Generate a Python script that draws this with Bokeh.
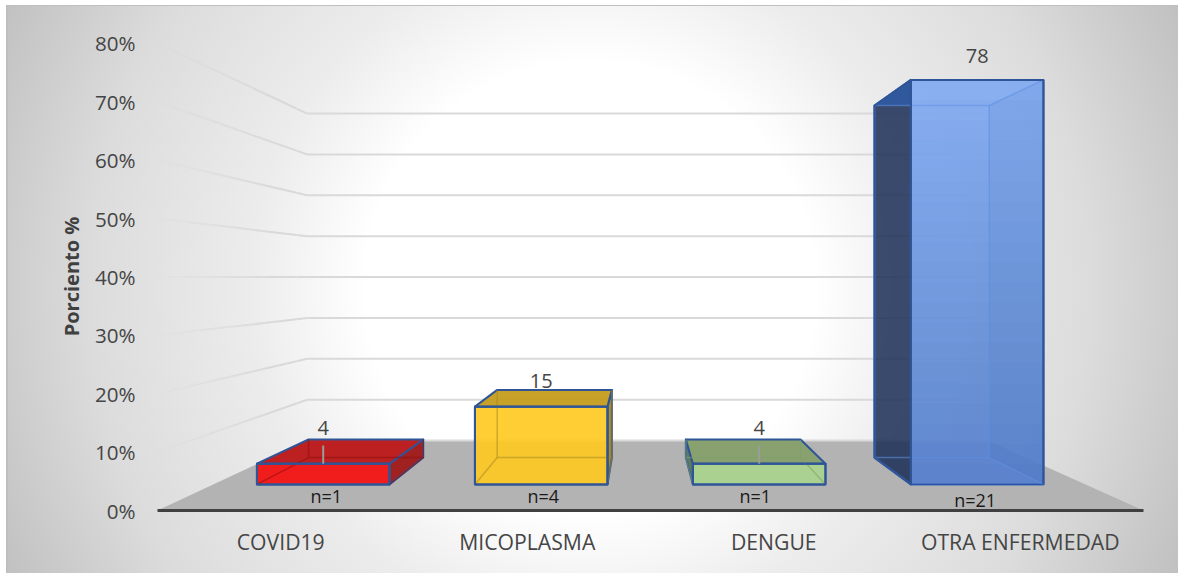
from bokeh.plotting import figure
from bokeh.embed import file_html
from bokeh.resources import INLINE
from bokeh.models import Range1d, FixedTicker, ColumnDataSource
from bokeh.core.properties import value as fv

# ---- data
categories = ["COVID19", "MICOPLASMA", "DENGUE", "OTRA ENFERMEDAD"]
percent = [4, 15, 4, 78]
n_labels = ["n=1", "n=4", "n=1", "n=21"]
y_ticks = [0, 10, 20, 30, 40, 50, 60, 70, 80]
y_tick_labels = ["0%", "10%", "20%", "30%", "40%", "50%", "60%", "70%", "80%"]

# ---- perspective of the 3-D chart, in data units
U_EYE, V_EYE = 1.959, 39.9
KX, KY = 0.31, 0.30
D_FRONT, D_BACK = 0.373, 0.757
HALF, SHIFT = 0.304, 0.004
FONT = "Open Sans"
LABEL_COL = "#454545"


def px(u, d):
    return U_EYE + (u - U_EYE) * (1 - KX * d)


def py(v, d):
    return V_EYE + (v - V_EYE) * (1 - KY * d)


p = figure(width=1178, height=573, output_backend="svg", toolbar_location=None,
           x_range=Range1d(0, 4), y_range=Range1d(0, 468 / 5.84),
           min_border_left=157, min_border_right=35, min_border_top=42, min_border_bottom=63)
p.background_fill_alpha = 0
p.border_fill_alpha = 0
p.outline_line_color = None
p.grid.visible = False
p.styles = {
    "background-image": "linear-gradient(#bfbfbf,#bfbfbf),linear-gradient(#bfbfbf,#bfbfbf),"
                        "radial-gradient(circle 655px at 584px 283px,#ffffff 0px,#ffffff 225px,"
                        "#ececec 340px,#dcdcdc 500px,#c0c0c0 655px)",
    "background-repeat": "no-repeat",
    "background-position": "6px 5px,6px 5px,6px 5px",
    "background-size": "1172px 1px,2px 568px,1172px 568px",
}

# axes
xa = p.xaxis[0]
xa.ticker = FixedTicker(ticks=[i + 0.5 for i in range(len(categories))])
xa.major_label_overrides = {i + 0.5: c for i, c in enumerate(categories)}
xa.major_tick_line_color = None
xa.minor_tick_line_color = None
xa.axis_line_color = "#404040"
xa.axis_line_width = 3
xa.major_label_standoff = 10
xa.major_label_text_font = FONT
xa.major_label_text_font_size = "21.2px"
xa.major_label_text_color = LABEL_COL

ya = p.yaxis[0]
ya.ticker = FixedTicker(ticks=y_ticks)
ya.major_label_overrides = dict(zip(y_ticks, y_tick_labels))
ya.major_tick_line_color = None
ya.minor_tick_line_color = None
ya.axis_line_color = None
ya.major_label_standoff = 16
ya.major_label_text_font = FONT
ya.major_label_text_font_size = "20.6px"
ya.major_label_text_color = LABEL_COL
ya.axis_label = "Porciento %"
ya.axis_label_text_font = FONT
ya.axis_label_text_font_size = "20px"
ya.axis_label_text_font_style = "bold"
ya.axis_label_text_color = "#404040"
ya.axis_label_standoff = 7

# floor
p.patch([px(0, 0), px(4, 0), px(4, 1), px(0, 1)], [py(0, 0), py(0, 0), py(0, 1), py(0, 1)],
        fill_color="#b3b3b3", line_color=None)

# grid: back wall and fading side wall
x0, y0, x1, y1, al = [], [], [], [], []
STEPS = 14
for t in y_ticks[1:]:
    x0.append(px(0, 1)); y0.append(py(t, 1)); x1.append(px(4, 1)); y1.append(py(t, 1)); al.append(1.0)
    for i in range(STEPS):
        a, b = i / STEPS, (i + 1) / STEPS
        x0.append(px(0, a)); y0.append(py(t, a)); x1.append(px(0, b)); y1.append(py(t, b))
        al.append(min(1.0, 0.08 + 1.3 * a))
p.segment(x0, y0, x1, y1, line_color="#d9d9d9", line_width=2, line_alpha=al)
p.segment([px(0, 1)], [py(0, 1)], [px(4, 1)], [py(0, 1)], line_color="#d9d9d9", line_width=2)

# bars
front_col = ["#f31818", "#ffc91f", "#a9d48c", "#80abf4"]
top_col = ["#bd1818", "#c49c1c", "#86a06c", "#2f5aa0"]
left_col = [None, None, "#4f7050", "#1a2d55"]
right_col = ["#a01818", "#a98a20", None, None]
inner_col = ["#8a1010", "#a88a20", "#7ea070", "#5f8fe4"]
front_alpha = [0.97, 0.9, 0.9, 0.88]
edge_col = ["#2f5597", "#2f5597", "#2f5597", "#3a66b0"]

for i, v in enumerate(percent):
    L, R = i + 0.5 + SHIFT - HALF, i + 0.5 + SHIFT + HALF
    EDGE = edge_col[i]

    def P(u, h, d):
        return px(u, d), py(h, d)

    def quad(pts, fill, alpha=0.92, line=EDGE, lw=2):
        p.patch([q[0] for q in pts], [q[1] for q in pts], fill_color=fill, fill_alpha=alpha,
                line_color=line, line_width=lw, line_join="round")

    fl, fr, tl, tr = P(L, 0, D_FRONT), P(R, 0, D_FRONT), P(L, v, D_FRONT), P(R, v, D_FRONT)
    bl, br, ubl, ubr = P(L, 0, D_BACK), P(R, 0, D_BACK), P(L, v, D_BACK), P(R, v, D_BACK)

    if left_col[i]:
        quad([fl, bl, ubl, tl], left_col[i], 0.85)
    if right_col[i]:
        quad([fr, br, ubr, tr], right_col[i], 0.95)
    if v > V_EYE:  # top seen from below: only its corner outside the front face shows
        quad([ubl, tl, (tl[0], ubl[1])], top_col[i], 0.95, None, 0)
    else:
        quad([tl, tr, ubr, ubl], top_col[i], 0.95)
    quad([fl, fr, tr, tl], front_col[i], front_alpha[i])
    if v > V_EYE:  # vertical shading of the tall front face
        for s in range(1, 21):
            h = v * s / 20
            a, b = P(L, h, D_FRONT), P(R, h, D_FRONT)
            quad([fl, fr, b, a], "#1f4ea0", 0.022, None, 0)
        quad([fr, br, ubr, tr], "#1f4ea0", 0.07, None, 0)
    # hidden edges seen through the box
    ex = [[fl[0], bl[0]], [bl[0], br[0]], [br[0], fr[0]], [bl[0], ubl[0]], [br[0], ubr[0]]]
    ey = [[fl[1], bl[1]], [bl[1], br[1]], [br[1], fr[1]], [bl[1], ubl[1]], [br[1], ubr[1]]]
    if v > V_EYE:
        ex += [[ubl[0], ubr[0]], [ubr[0], tr[0]]]
        ey += [[ubl[1], ubr[1]], [ubr[1], tr[1]]]
    p.multi_line(ex, ey, line_color=inner_col[i], line_width=1.5, line_alpha=0.55)
    # top and side edges stay crisp
    p.multi_line([[fl[0], tl[0], tr[0], fr[0]]], [[fl[1], tl[1], tr[1], fr[1]]],
                 line_color="#2f5597", line_width=2)
    if v > V_EYE:
        p.multi_line([[tl[0], ubl[0], bl[0], fl[0]]], [[tl[1], ubl[1], bl[1], fl[1]]],
                     line_color="#2f5597", line_width=2)
    else:
        p.multi_line([[fl[0], fr[0]]], [[fl[1], fr[1]]], line_color="#2f5597", line_width=2)

# leader lines of the short bars
for i, v in enumerate(percent):
    if v < 10:
        c = i + 0.5 + SHIFT
        p.segment([px(c, D_FRONT)], [py(v, D_FRONT)], [px(c, D_FRONT)], [py(v, D_FRONT) + 3.1],
                  line_color="#9c9c9c", line_width=2)

# value labels
val_dy = [-12, -9, -12, -50]
src = ColumnDataSource(dict(
    x=[px(i + 0.5 + SHIFT, D_FRONT) for i in range(4)],
    y=[py(v, D_BACK) for v in percent],
    t=[str(v) for v in percent], dy=val_dy))
p.text("x", "y", text="t", source=src, y_offset="dy", text_align="center", text_baseline="middle",
       text_font=fv(FONT), text_font_size="20px", text_color=LABEL_COL)

# n labels
n_dy = [12, 12, 12, 16]
n_dx = [3, 2, -4, -2]
src2 = ColumnDataSource(dict(
    x=[px(i + 0.5 + SHIFT, D_FRONT) for i in range(4)],
    y=[py(0, D_FRONT)] * 4, t=n_labels, dy=n_dy, dx=n_dx))
p.text("x", "y", text="t", source=src2, x_offset="dx", y_offset="dy", text_align="center",
       text_baseline="middle", text_font=fv(FONT), text_font_size="18px", text_color="#1a1a1a")

open("out.html", "w").write(file_html(p, INLINE))
